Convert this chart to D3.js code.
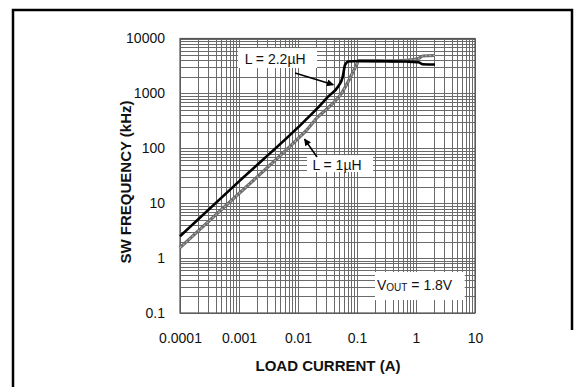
<!DOCTYPE html>
<html><head><meta charset="utf-8">
<script src="https://cdn.jsdelivr.net/npm/d3@7"></script>
<style>
body{margin:0;background:#fff}
svg{display:block}
text{font-family:"Liberation Sans",Arial,Helvetica,sans-serif}
</style></head>
<body><svg id="c" width="585" height="387"></svg>
<script>
// ---- data ----
const xTickValues = [0.0001, 0.001, 0.01, 0.1, 1, 10];
const xTickLabels = ["0.0001", "0.001", "0.01", "0.1", "1", "10"];
const yTickValues = [0.1, 1, 10, 100, 1000, 10000];
const yTickLabels = ["0.1", "1", "10", "100", "1000", "10000"];

// L = 2.2uH (black)
const current22 = [0.0001, 0.001, 0.01, 0.02, 0.0327, 0.0482, 0.0573, 0.0627, 0.0715, 0.105, 0.3, 0.7, 1.1, 1.3, 2.1];
const freq22    = [2.5,    25,    240,  500,  880,    1350,   2000,   3300,   3800,   3900,  3850, 3800, 3700, 3400, 3350];
// L = 1uH (gray)
const current10 = [0.0001, 0.001, 0.01, 0.014, 0.0208, 0.0369, 0.055, 0.0715, 0.0864, 0.0983, 0.105, 0.3, 0.7, 1.1, 1.3, 2.1];
const freq10    = [1.55,   15,    150,  215,   356,    622,    1015,  1660,   2520,   3300,   3900,  3900, 4000, 4300, 4800, 4900];

// ---- layout ----
const svg = d3.select("#c");
const x = d3.scaleLog().domain([0.0001, 10]).range([180, 475]);
const y = d3.scaleLog().domain([0.1, 10000]).range([313, 38.5]);

// outer frame
svg.append("path").attr("d", "M13,387 V10 H572 V330")
  .attr("fill", "none").attr("stroke", "#000").attr("stroke-width", 2.5);

const g = svg.append("g");

// grid
const gridColor = "#6a6a6a";
g.selectAll("line.vg").data(x.ticks()).join("line").attr("class", "vg")
  .attr("x1", d => Math.round(x(d)) + 0.5).attr("x2", d => Math.round(x(d)) + 0.5)
  .attr("y1", y(10000)).attr("y2", y(0.1))
  .attr("stroke", gridColor).attr("stroke-width", 1);
g.selectAll("line.hg").data(y.ticks()).join("line").attr("class", "hg")
  .attr("y1", d => Math.round(y(d)) + 0.5).attr("y2", d => Math.round(y(d)) + 0.5)
  .attr("x1", x(0.0001)).attr("x2", x(10))
  .attr("stroke", gridColor).attr("stroke-width", 1);
g.append("rect").attr("x", x(0.0001)).attr("y", y(10000))
  .attr("width", x(10) - x(0.0001)).attr("height", y(0.1) - y(10000))
  .attr("fill", "none").attr("stroke", "#555").attr("stroke-width", 1.2);

// axes (labels only)
const xAxis = d3.axisBottom(x).tickValues(xTickValues)
  .tickFormat((d, i) => xTickLabels[i]).tickSize(0).tickPadding(20);
svg.append("g").attr("transform", `translate(0,${y(0.1)})`).call(xAxis)
  .call(a => a.select(".domain").remove())
  .selectAll("text").attr("font-size", 14).attr("fill", "#111")
  .attr("font-family", "Liberation Sans, Arial, sans-serif");
const yAxis = d3.axisLeft(y).tickValues(yTickValues)
  .tickFormat((d, i) => yTickLabels[i]).tickSize(0).tickPadding(15);
svg.append("g").attr("transform", `translate(${x(0.0001)},0)`).call(yAxis)
  .call(a => a.select(".domain").remove())
  .selectAll("text").attr("font-size", 14).attr("fill", "#111")
  .attr("font-family", "Liberation Sans, Arial, sans-serif");

// axis titles
svg.append("text").attr("x", 328).attr("y", 371).attr("text-anchor", "middle")
  .attr("font-size", 15).attr("font-weight", "bold").attr("fill", "#111")
  .text("LOAD CURRENT (A)");
svg.append("text").attr("transform", "translate(131,182) rotate(-90)")
  .attr("text-anchor", "middle").attr("font-size", 15).attr("font-weight", "bold").attr("fill", "#111")
  .text("SW FREQUENCY (kHz)");

// annotation boxes
function box(x0, x1, f0, f1) {
  svg.append("rect").attr("x", x(x0)).attr("y", y(f1))
    .attr("width", x(x1) - x(x0)).attr("height", y(f0) - y(f1)).attr("fill", "#fff");
}
box(0.00096, 0.021, 2900, 6700);   // L = 2.2uH label
box(0.0142, 0.187, 37, 75);        // L = 1uH label
box(0.202, 6.7, 0.172, 0.558);     // VOUT label

// curves
const line = d3.line().x(d => x(d[0])).y(d => y(d[1])).curve(d3.curveMonotoneX);
const data10 = current10.map((c, i) => [c, freq10[i]]);
const data22 = current22.map((c, i) => [c, freq22[i]]);
svg.append("path").datum(data10).attr("d", line)
  .attr("fill", "none").attr("stroke", "#6a6a6a").attr("stroke-width", 3.2);
svg.append("path").datum(data10).attr("d", line)
  .attr("fill", "none").attr("stroke", "#aaaaaa").attr("stroke-width", 1.2)
  .attr("stroke-dasharray", "2,2");
svg.append("path").datum(data22).attr("d", line)
  .attr("fill", "none").attr("stroke", "#000").attr("stroke-width", 2.6);

// arrows
const defs = svg.append("defs");
defs.append("marker").attr("id", "ah").attr("viewBox", "0 0 10 10")
  .attr("refX", 9).attr("refY", 5).attr("markerWidth", 9).attr("markerHeight", 7)
  .attr("markerUnits", "userSpaceOnUse").attr("orient", "auto")
  .append("path").attr("d", "M0,0 L10,5 L0,10 Z").attr("fill", "#000");
function arrow(c0, f0, c1, f1) {
  svg.append("line").attr("x1", x(c0)).attr("y1", y(f0)).attr("x2", x(c1)).attr("y2", y(f1))
    .attr("stroke", "#000").attr("stroke-width", 1.6).attr("marker-end", "url(#ah)");
}
arrow(0.0089, 2350, 0.0397, 1440);
arrow(0.021, 69.5, 0.0129, 147);

// labels
svg.append("text").attr("x", x(0.0041)).attr("y", y(3430)).attr("text-anchor", "middle")
  .attr("font-size", 14).attr("fill", "#111").text("L = 2.2\u00B5H");
svg.append("text").attr("x", x(0.0458)).attr("y", y(40.3)).attr("text-anchor", "middle")
  .attr("font-size", 14).attr("fill", "#111").text("L = 1\u00B5H");
const vt = svg.append("text").attr("x", x(0.218)).attr("y", y(0.262))
  .attr("font-size", 14).attr("fill", "#111");
vt.append("tspan").text("V");
vt.append("tspan").attr("font-size", 10).attr("dy", 1).text("OUT");
vt.append("tspan").attr("dy", -1).text(" = 1.8V");
</script>
</body></html>
